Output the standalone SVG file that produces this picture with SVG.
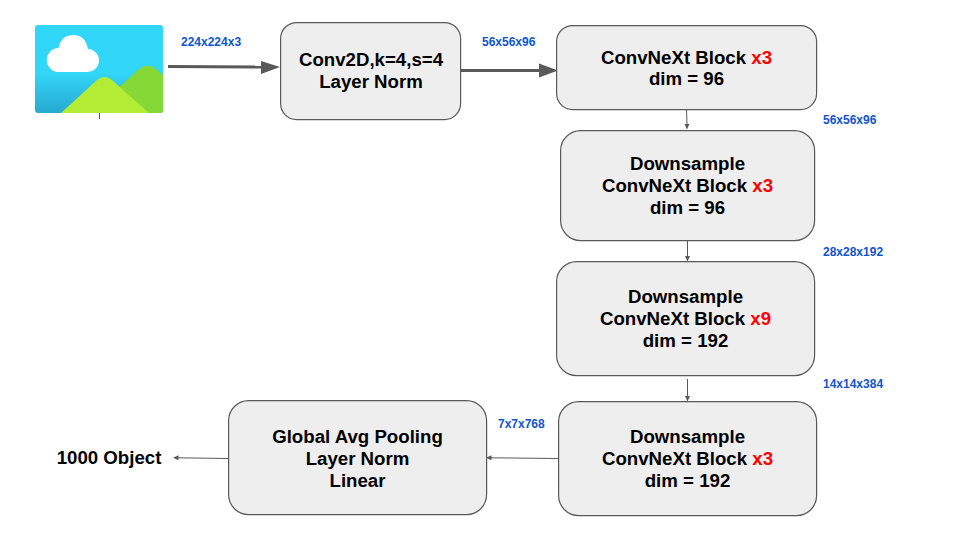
<svg xmlns="http://www.w3.org/2000/svg" width="960" height="540" viewBox="0 0 960 540">
<style>
.n{fill:#eeeeee;stroke:#595959;stroke-width:1.2}
.t{font-family:"Liberation Sans",Arial,sans-serif;font-weight:700;font-size:18.670px;fill:#000;text-anchor:middle}
.l{font-family:"Liberation Sans",Arial,sans-serif;font-weight:700;font-size:12px;fill:#1155cc}
.r{fill:#ff0000}
.c{fill:none;stroke:#595959}
</style>
<defs>
<linearGradient id="sky" x1="0" y1="0" x2="0" y2="1"><stop offset="0" stop-color="#32d6f8"/><stop offset="0.55" stop-color="#32d6f8"/><stop offset="1" stop-color="#27a9d0"/></linearGradient>
<clipPath id="pic"><rect x="35" y="25" width="128" height="88" rx="3"/></clipPath>
</defs>
<rect width="960" height="540" fill="#fff"/>
<g id="connectors">
<path class="c" stroke-width="1" d="M99.500 113V119"/>
<path class="c" stroke-width="3" d="M168 66.500L262 67"/><path fill="#595959" d="M261 61L280 67L261 74Z"/>
<path class="c" stroke-width="3" d="M461 70.500H540"/><path fill="#595959" d="M539 63.500L558 70.500L539 77.500Z"/>
<path class="c" d="M686.500 109L687 125"/><path fill="#595959" d="M684.500 124L689.500 124L687 129.500Z"/>
<path class="c" d="M687.500 240.500V256"/><path fill="#595959" d="M685 256L690 256L687.500 261.500Z"/>
<path class="c" d="M687.500 379V396"/><path fill="#595959" d="M685 396L690 396L687.500 401.500Z"/>
<path class="c" d="M558 458.500L491 457.800"/><path fill="#595959" d="M491.500 455.300L491.500 460.300L486 457.800Z"/>
<path class="c" d="M228 458.500L178 457.800"/><path fill="#595959" d="M178.500 455.300L178.500 460.300L173 457.800Z"/>
</g>
<g id="image-icon" clip-path="url(#pic)">
<rect x="35" y="25" width="128" height="88" fill="url(#sky)"/>
<path fill="#85d836" d="M105 100L138 70Q147 62 156 69L163 75V113H105Z"/>
<path fill="#b2ec35" d="M61 113L97 80Q104.500 74 112 80L149 113Z"/>
<path fill="#fff" d="M59 72A12 12 0 0 1 58.500 48Q61 35 74 35Q85 35 88 49A11.500 11.500 0 0 1 87 72Z"/>
</g>
<g id="stem">
<rect class="n" x="280.600" y="22.600" width="180" height="97" rx="16"/>
<text class="t" x="371" y="66">Conv2D,k=4,s=4</text>
<text class="t" x="371" y="88">Layer Norm</text>
</g>
<g id="block1">
<rect class="n" x="556.600" y="25.600" width="260" height="84" rx="16"/>
<text class="t" x="686.500" y="64">ConvNeXt Block <tspan class="r">x3</tspan></text>
<text class="t" x="686.500" y="85">dim = 96</text>
</g>
<g id="block2">
<rect class="n" x="560.600" y="130.600" width="254" height="110" rx="20"/>
<text class="t" x="687.500" y="170">Downsample</text>
<text class="t" x="687.500" y="192">ConvNeXt Block <tspan class="r">x3</tspan></text>
<text class="t" x="687.500" y="214">dim = 96</text>
</g>
<g id="block3">
<rect class="n" x="556.600" y="261.600" width="258" height="114" rx="20"/>
<text class="t" x="685.500" y="303">Downsample</text>
<text class="t" x="685.500" y="325">ConvNeXt Block <tspan class="r">x9</tspan></text>
<text class="t" x="685.500" y="347">dim = 192</text>
</g>
<g id="block4">
<rect class="n" x="558.600" y="401.600" width="258" height="114" rx="20"/>
<text class="t" x="687.500" y="443">Downsample</text>
<text class="t" x="687.500" y="465">ConvNeXt Block <tspan class="r">x3</tspan></text>
<text class="t" x="687.500" y="487">dim = 192</text>
</g>
<g id="head">
<rect class="n" x="228.600" y="400.600" width="258" height="114" rx="20"/>
<text class="t" x="357.500" y="443">Global Avg Pooling</text>
<text class="t" x="357.500" y="465">Layer Norm</text>
<text class="t" x="357.500" y="487">Linear</text>
</g>
<g id="output"><text class="t" x="109" y="464">1000 Object</text></g>
<g id="labels">
<text class="l" x="181" y="46">224x224x3</text>
<text class="l" x="482" y="46">56x56x96</text>
<text class="l" x="823" y="123.500">56x56x96</text>
<text class="l" x="823" y="256">28x28x192</text>
<text class="l" x="823" y="388">14x14x384</text>
<text class="l" x="498" y="428">7x7x768</text>
</g>
</svg>
